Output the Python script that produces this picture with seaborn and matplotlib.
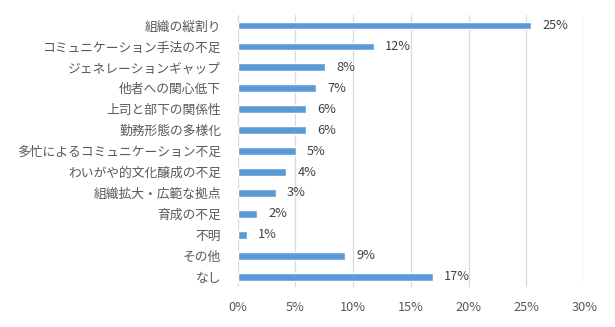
import matplotlib
matplotlib.use("Agg")
import matplotlib.pyplot as plt
import seaborn as sns
import pandas as pd
from matplotlib.ticker import FuncFormatter

categories = ["組織の縦割り", "コミュニケーション手法の不足", "ジェネレーションギャップ",
              "他者への関心低下", "上司と部下の関係性", "勤務形態の多様化",
              "多忙によるコミュニケーション不足", "わいがや的文化醸成の不足",
              "組織拡大・広範な拠点", "育成の不足", "不明", "その他", "なし"]
values = [25.4, 11.8, 7.6, 6.8, 5.9, 5.9, 5.05, 4.2, 3.3, 1.7, 0.8, 9.3, 16.9]
labels = ["25%", "12%", "8%", "7%", "6%", "6%", "5%", "4%", "3%", "2%", "1%", "9%", "17%"]
xticks = [0, 5, 10, 15, 20, 25, 30]

sns.set_theme(style="white")
plt.rcParams['font.family'] = ['Noto Sans CJK JP', 'DejaVu Sans']

df = pd.DataFrame({"cat": categories, "val": values})
fig = plt.figure(figsize=(6.15, 3.27), dpi=100)
ax = fig.add_axes([0.3865, 0.122, 0.5635, 0.832])
sns.barplot(data=df, x="val", y="cat", orient="h", color="#5B9BD5",
            saturation=1, width=0.37, ax=ax, zorder=3)
ax.set_xlim(0, 30)
ax.set_xticks(xticks)
ax.xaxis.set_major_formatter(FuncFormatter(lambda v, p: f"{int(v)}%"))
ax.grid(axis="x", color="#D9D9D9", linewidth=0.9, zorder=0)
ax.set_axisbelow(True)
for s in ax.spines.values():
    s.set_visible(False)
ax.set_xlabel("")
ax.set_ylabel("")
ax.tick_params(axis="y", length=0, pad=12, labelsize=9.2, labelcolor="#595959")
ax.tick_params(axis="x", length=0, pad=10, labelsize=9.2, labelcolor="#595959")
for i, (v, t) in enumerate(zip(values, labels)):
    ax.annotate(t, (v, i), xytext=(8, 0), textcoords="offset points",
                va="center", ha="left", fontsize=9.2, color="#404040")
fig.savefig("out.png", dpi=100)
